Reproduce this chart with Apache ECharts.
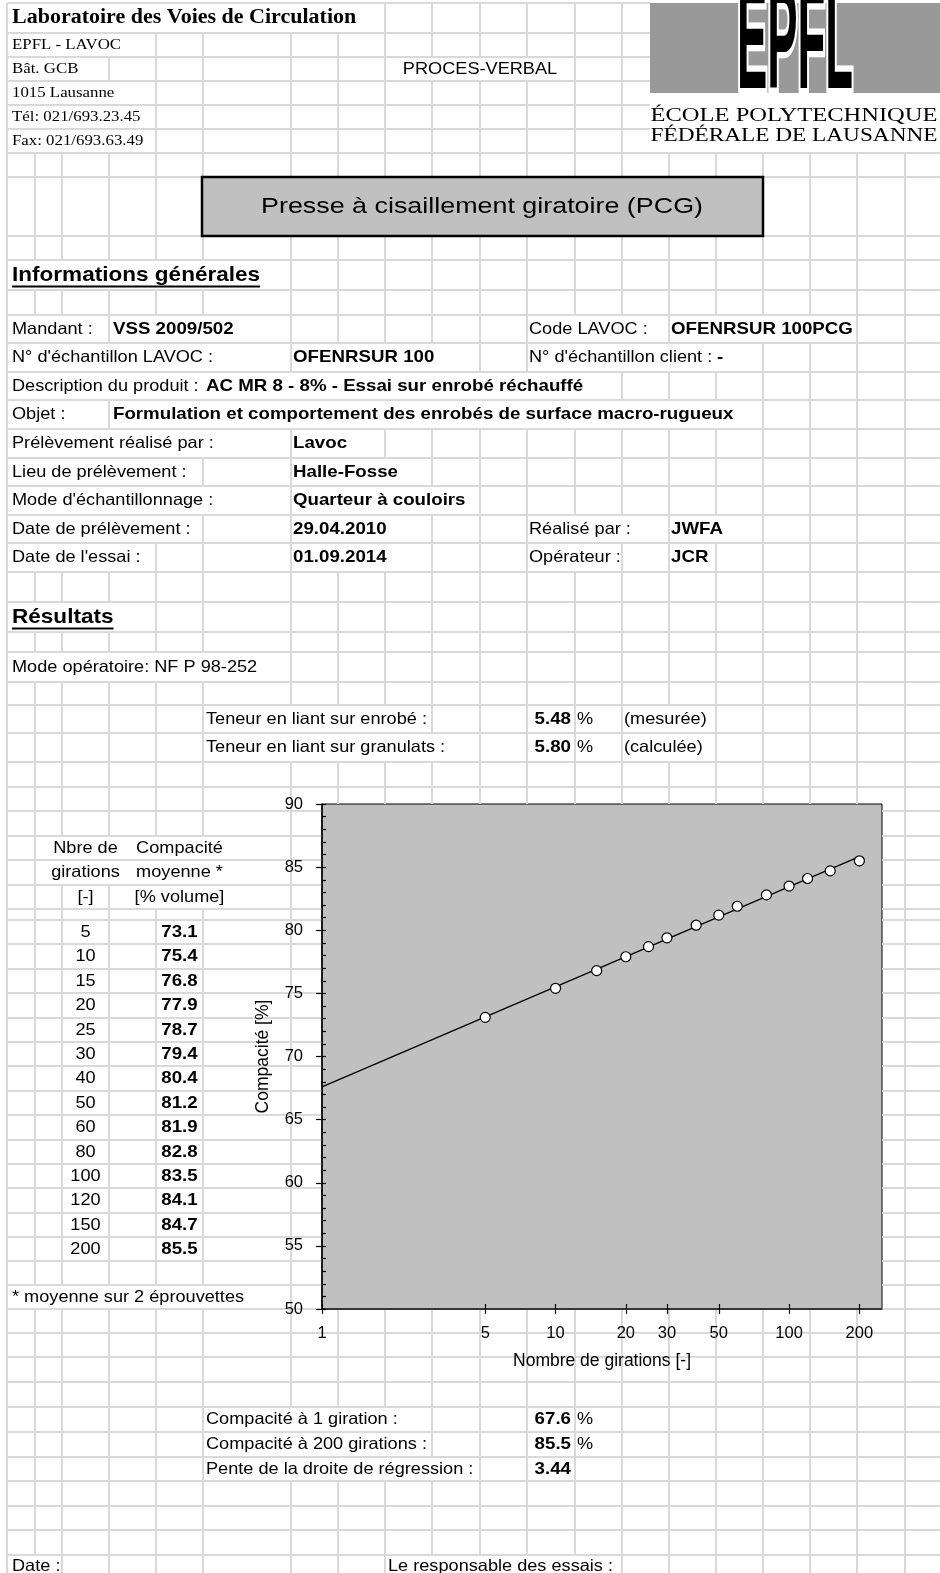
<!DOCTYPE html>
<html>
<head>
<meta charset="utf-8">
<script src="https://cdn.jsdelivr.net/npm/echarts@6/dist/echarts.min.js"></script>
<style>
  html, body { margin: 0; padding: 0; background: #fff; }
  #page { width: 940px; height: 1573px; }
</style>
</head>
<body>
<div id="page"></div>
<script>
// ---- Test data: gyratory shear press (PCG), compaction vs. number of gyrations ----
const girations = [5, 10, 15, 20, 25, 30, 40, 50, 60, 80, 100, 120, 150, 200];
const compacite = [73.1, 75.4, 76.8, 77.9, 78.7, 79.4, 80.4, 81.2, 81.9, 82.8, 83.5, 84.1, 84.7, 85.5];
const xTickValues = [1, 5, 10, 20, 30, 50, 100, 200];
const yMin = 50, yMax = 90, yStep = 5;
const xMin = 1, xMax = 250;

// Results stated in the report
const teneurEnrobe = 5.48;
const teneurGranulats = 5.80;
const compacite1 = 67.6;      // compaction at 1 gyration (regression intercept)
const compacite200 = 85.5;    // compaction at 200 gyrations
const pente = 3.44;           // slope of regression line vs ln(N)

// Regression line C(N) = C1 + pente * ln(N), drawn from N = 1 to N = 200
const regression = [[1, compacite1], [200, compacite1 + pente * Math.log(200)]];

// ---- Spreadsheet layout (column / row boundaries in px) ----
const COLS = [7, 35, 62, 109, 156, 203, 291, 338, 385, 432, 480, 527, 575, 622, 669, 716, 763, 810, 857, 905];
const ROWS = [3, 33, 57, 81, 105, 129, 153, 177, 236, 260, 290, 315, 343, 372, 400, 429, 458, 486, 515, 543,
  572, 602, 632, 652, 682, 705, 733, 762, 787, 811, 836, 860, 885, 909, 920,
  944, 969, 993, 1018, 1042, 1066, 1091, 1115, 1140, 1164, 1188, 1213, 1237,
  1261, 1285, 1309, 1333, 1357, 1382, 1407, 1432, 1457, 1481, 1506, 1530, 1555, 1578];
const PAGE_RIGHT = 940;

const PLOT = { left: 322, top: 804, right: 882, bottom: 1309 };

const SX = 1.1; // horizontal stretch of the printed type
const FONTS = {
  sans:   { family: 'Liberation Sans', size: 16.5, weight: 'normal' },
  sansB:  { family: 'Liberation Sans', size: 17, weight: 'bold' },
  serif:  { family: 'Liberation Serif', size: 15.3, weight: 'normal' },
  serifB: { family: 'Liberation Serif', size: 20, weight: 'bold' },
  head:   { family: 'Liberation Sans', size: 20.5, weight: 'bold' },
  big:    { family: 'Liberation Sans', size: 22.4, weight: 'normal', sx: 1.2 }
};

const C = COLS;
const TEXTS = [
  { r: 0, x: 12, t: 'Laboratoire des Voies de Circulation', f: 'serifB' },
  { r: 1, x: 12, t: 'EPFL - LAVOC', f: 'serif' },
  { r: 2, x: 12, t: 'Bât. GCB', f: 'serif' },
  { r: 2, x: 480, t: 'PROCES-VERBAL', a: 'center' },
  { r: 3, x: 12, t: '1015 Lausanne', f: 'serif' },
  { r: 4, x: 12, t: 'Tél: 021/693.23.45', f: 'serif' },
  { r: 5, x: 12, t: 'Fax: 021/693.63.49', f: 'serif' },
  { r: 7, x: 482, t: 'Presse à cisaillement giratoire (PCG)', f: 'big', a: 'center' },
  { r: 9, x: 12, t: 'Informations générales', f: 'head', u: true },

  { r: 11, x: 12, t: 'Mandant :' },
  { r: 11, x: C[3] + 4, t: 'VSS 2009/502', f: 'sansB' },
  { r: 11, x: C[11] + 2, t: 'Code LAVOC :' },
  { r: 11, x: C[14] + 2, t: 'OFENRSUR 100PCG', f: 'sansB' },
  { r: 12, x: 12, t: "N° d'échantillon LAVOC :" },
  { r: 12, x: C[6] + 2, t: 'OFENRSUR 100', f: 'sansB' },
  { r: 12, x: C[11] + 2, t: "N° d'échantillon client :" },
  { r: 12, x: C[15] + 1, t: '-', f: 'sansB', padL: 4 },
  { r: 13, x: 12, t: 'Description du produit :' },
  { r: 13, x: C[5] + 3, t: 'AC MR 8 - 8% - Essai sur enrobé réchauffé', f: 'sansB', padL: 6 },
  { r: 14, x: 12, t: 'Objet :' },
  { r: 14, x: C[3] + 4, t: 'Formulation et comportement des enrobés de surface macro-rugueux', f: 'sansB' },
  { r: 15, x: 12, t: 'Prélèvement réalisé par :' },
  { r: 15, x: C[6] + 2, t: 'Lavoc', f: 'sansB' },
  { r: 16, x: 12, t: 'Lieu de prélèvement :' },
  { r: 16, x: C[6] + 2, t: 'Halle-Fosse', f: 'sansB' },
  { r: 17, x: 12, t: "Mode d'échantillonnage :" },
  { r: 17, x: C[6] + 2, t: 'Quarteur à couloirs', f: 'sansB' },
  { r: 18, x: 12, t: 'Date de prélèvement :' },
  { r: 18, x: C[6] + 2, t: '29.04.2010', f: 'sansB' },
  { r: 18, x: C[11] + 2, t: 'Réalisé par :' },
  { r: 18, x: C[14] + 2, t: 'JWFA', f: 'sansB' },
  { r: 19, x: 12, t: "Date de l'essai :" },
  { r: 19, x: C[6] + 2, t: '01.09.2014', f: 'sansB' },
  { r: 19, x: C[11] + 2, t: 'Opérateur :' },
  { r: 19, x: C[14] + 2, t: 'JCR', f: 'sansB' },

  { r: 21, x: 12, t: 'Résultats', f: 'head', u: true },
  { r: 23, x: 12, t: 'Mode opératoire: NF P 98-252' },
  { r: 25, x: C[5] + 3, t: 'Teneur en liant sur enrobé :' },
  { r: 25, x: C[12] - 4, t: teneurEnrobe.toFixed(2), f: 'sansB', a: 'right' },
  { r: 25, x: C[12] + 2, t: '%' },
  { r: 25, x: C[13] + 2, t: '(mesurée)' },
  { r: 26, x: C[5] + 3, t: 'Teneur en liant sur granulats :' },
  { r: 26, x: C[12] - 4, t: teneurGranulats.toFixed(2), f: 'sansB', a: 'right' },
  { r: 26, x: C[12] + 2, t: '%' },
  { r: 26, x: C[13] + 2, t: '(calculée)' },

  { r: 30, x: 85.5, t: 'Nbre de', a: 'center' },
  { r: 30, x: 179.5, t: 'Compacité', a: 'center' },
  { r: 31, x: 85.5, t: 'girations', a: 'center' },
  { r: 31, x: 179.5, t: 'moyenne *', a: 'center' },
  { r: 32, x: 85.5, t: '[-]', a: 'center' },
  { r: 32, x: 179.5, t: '[% volume]', a: 'center' },
  { r: 49, x: 12, t: '* moyenne sur 2 éprouvettes' },

  { r: 54, x: C[5] + 3, t: 'Compacité à 1 giration :' },
  { r: 54, x: C[12] - 4, t: compacite1.toFixed(1), f: 'sansB', a: 'right' },
  { r: 54, x: C[12] + 2, t: '%' },
  { r: 55, x: C[5] + 3, t: 'Compacité à 200 girations :' },
  { r: 55, x: C[12] - 4, t: compacite200.toFixed(1), f: 'sansB', a: 'right' },
  { r: 55, x: C[12] + 2, t: '%' },
  { r: 56, x: C[5] + 3, t: 'Pente de la droite de régression :' },
  { r: 56, x: C[12] - 4, t: pente.toFixed(2), f: 'sansB', a: 'right' },
  { r: 60, x: 12, t: 'Date :' },
  { r: 60, x: C[8] + 3, t: 'Le responsable des essais :' }
];
// Data table rows, drawn from the series arrays
girations.forEach((g, i) => {
  TEXTS.push({ r: 34 + i, x: 85.5, t: String(g), a: 'center' });
  TEXTS.push({ r: 34 + i, x: 179.5, t: compacite[i].toFixed(1), f: 'sansB', a: 'center' });
});

// Areas painted over the cell grid: logo, title box, plot area
const OCCLUDERS = [
  { x1: 650, y1: 0, x2: 941, y2: 153 },
  { x1: 202, y1: 177, x2: 763, y2: 236 },
  { x1: PLOT.left, y1: PLOT.top, x2: PLOT.right, y2: PLOT.bottom }
];

// ---- Build graphic elements ----
const mctx = document.createElement('canvas').getContext('2d');
function measure(text, F) {
  mctx.font = `${F.weight} ${F.size}px "${F.family}"`;
  return mctx.measureText(text).width;
}

const elements = [];
const hidden = {};

TEXTS.forEach(it => {
  const F = FONTS[it.f || 'sans'];
  const sx = F.sx || SX;
  const w = measure(it.t, F) * sx;
  const a = it.a || 'left';
  const x1 = a === 'left' ? it.x : a === 'center' ? it.x - w / 2 : it.x - w;
  const x2 = x1 + w;
  const yc = (ROWS[it.r] + ROWS[it.r + 1]) / 2 + (it.dy || 0);
  COLS.forEach((cx, ci) => {
    if (cx > x1 - (it.padL || 0) + 1 && cx < x2 - 1) hidden[it.r + ':' + ci] = true;
  });
  elements.push({
    type: 'text', x: it.x, y: yc, scaleX: sx, z: 20, silent: true,
    style: {
      text: it.t, fill: '#000', fontSize: F.size, fontFamily: F.family, fontWeight: F.weight,
      textAlign: a, align: a, textVerticalAlign: 'middle', verticalAlign: 'middle'
    }
  });
  if (it.u) {
    elements.push({
      type: 'line', z: 20, silent: true,
      shape: { x1: x1, y1: yc + 11.5, x2: x2, y2: yc + 11.5 },
      style: { stroke: '#000', lineWidth: 2 }
    });
  }
});

function subtract(pieces, a, b) {
  const out = [];
  pieces.forEach(([p, q]) => {
    if (b <= p || a >= q) out.push([p, q]);
    else {
      if (a > p) out.push([p, a]);
      if (b < q) out.push([b, q]);
    }
  });
  return out;
}
function gridLine(x1, y1, x2, y2) {
  return { type: 'line', z: 0, silent: true, shape: { x1, y1, x2, y2 },
    style: { stroke: '#d9d9d9', lineWidth: 2 } };
}

// vertical cell borders
COLS.forEach((cx, ci) => {
  let pieces = [];
  for (let r = 0; r < ROWS.length - 1; r++) {
    if (!hidden[r + ':' + ci]) pieces.push([ROWS[r], ROWS[r + 1]]);
  }
  OCCLUDERS.forEach(o => { if (cx > o.x1 && cx < o.x2) pieces = subtract(pieces, o.y1, o.y2); });
  const merged = [];
  pieces.forEach(p => {
    const last = merged[merged.length - 1];
    if (last && Math.abs(last[1] - p[0]) < 0.01) last[1] = p[1];
    else merged.push([p[0], p[1]]);
  });
  merged.forEach(([a, b]) => elements.push(gridLine(cx, a, cx, b)));
});
// horizontal cell borders
ROWS.forEach(y => {
  let pieces = [[COLS[0], PAGE_RIGHT]];
  OCCLUDERS.forEach(o => { if (y > o.y1 && y < o.y2) pieces = subtract(pieces, o.x1, o.x2); });
  pieces.forEach(([a, b]) => elements.push(gridLine(a, y, b, y)));
});

// Title box
elements.push({
  type: 'rect', z: 10, silent: true,
  shape: { x: 202, y: 177, width: 561, height: 59 },
  style: { fill: '#c0c0c0', stroke: '#000', lineWidth: 2.5 }
});

// EPFL logo block
elements.push({
  type: 'rect', z: 10, silent: true,
  shape: { x: 650, y: 3, width: 290, height: 90 },
  style: { fill: '#999999' }
});
const logoFont = { family: 'Liberation Sans', size: 60, weight: 'bold' };
const logoSX = 116 / measure('EPFL', logoFont);
[{ fill: '#fff', stroke: '#fff', lw: 5 }, { fill: '#000', stroke: null, lw: 0 }].forEach((s, k) => {
  elements.push({
    type: 'text', x: 795, y: 47, scaleX: logoSX, scaleY: 2.45, z: 11 + k, silent: true,
    style: {
      text: 'EPFL', fill: s.fill, stroke: s.stroke, lineWidth: s.lw,
      fontSize: logoFont.size, fontFamily: logoFont.family, fontWeight: 'bold',
      textAlign: 'center', align: 'center', textVerticalAlign: 'middle', verticalAlign: 'middle'
    }
  });
});
const logoTextFont = { family: 'Liberation Serif', size: 19, weight: 'normal' };
[['ÉCOLE POLYTECHNIQUE', 116], ['FÉDÉRALE DE LAUSANNE', 136]].forEach(([t, y]) => {
  const sx = 287 / measure(t, logoTextFont);
  elements.push({
    type: 'text', x: 794, y: y, scaleX: sx, z: 12, silent: true,
    style: {
      text: t, fill: '#000', fontSize: logoTextFont.size, fontFamily: logoTextFont.family,
      textAlign: 'center', align: 'center', textVerticalAlign: 'middle', verticalAlign: 'middle'
    }
  });
});

// ---- Chart ----
const axisFont = { color: '#000', fontSize: 16.5, fontFamily: 'Liberation Sans' };
const tickStyle = { color: '#000', width: 1.2 };

const chart = echarts.init(document.getElementById('page'), null, { renderer: 'canvas' });
chart.setOption({
  animation: false,
  backgroundColor: 'transparent',
  graphic: { elements: elements },
  grid: {
    left: PLOT.left, top: PLOT.top,
    width: PLOT.right - PLOT.left, height: PLOT.bottom - PLOT.top,
    show: true, backgroundColor: '#c0c0c0', borderColor: '#000', borderWidth: 1,
    containLabel: false
  },
  xAxis: [
    {
      type: 'log', logBase: 10, min: xMin, max: xMax, position: 'bottom', z: 5,
      axisLine: { show: true, lineStyle: { color: '#000', width: 1.5 } },
      axisTick: { show: true, length: 5, lineStyle: tickStyle, customValues: xTickValues },
      axisLabel: { show: true, customValues: xTickValues, margin: 16, formatter: v => String(Math.round(v)), ...axisFont },
      splitLine: { show: false },
      minorTick: { show: false }, minorSplitLine: { show: false },
      name: 'Nombre de girations [-]', nameLocation: 'middle', nameGap: 43,
      nameTextStyle: { color: '#000', fontSize: 17.5, fontFamily: 'Liberation Sans' }
    },
    {
      type: 'log', logBase: 10, min: xMin, max: xMax, position: 'bottom', z: 5,
      axisLine: { show: false },
      axisTick: { show: true, inside: true, length: 5, lineStyle: tickStyle, customValues: xTickValues },
      axisLabel: { show: false },
      splitLine: { show: false }
    }
  ],
  yAxis: [
    {
      type: 'value', min: yMin, max: yMax, interval: yStep, position: 'left', z: 5,
      axisLine: { show: true, lineStyle: { color: '#000', width: 1.5 } },
      axisTick: { show: true, length: 6, lineStyle: tickStyle },
      axisLabel: { margin: 19, ...axisFont },
      splitLine: { show: false },
      name: 'Compacité [%]', nameLocation: 'middle', nameGap: 50, nameRotate: 90,
      nameTextStyle: { color: '#000', fontSize: 17.5, fontFamily: 'Liberation Sans' }
    },
    {
      type: 'value', min: yMin, max: yMax, interval: yStep, position: 'left', z: 5,
      axisLine: { show: false },
      axisTick: { show: true, inside: true, length: 4, lineStyle: tickStyle },
      minorTick: { show: true, splitNumber: 5, length: 4, lineStyle: tickStyle },
      axisLabel: { show: false },
      splitLine: { show: false }
    }
  ],
  series: [
    {
      name: 'Régression', type: 'line', xAxisIndex: 0, yAxisIndex: 0,
      data: regression, symbol: 'none', silent: true, z: 3,
      lineStyle: { color: '#000', width: 1.3 }
    },
    {
      name: 'Compacité moyenne', type: 'scatter', xAxisIndex: 0, yAxisIndex: 0,
      data: girations.map((g, i) => [g, compacite[i]]),
      symbol: 'circle', symbolSize: 10, z: 4,
      itemStyle: { color: '#fff', borderColor: '#000', borderWidth: 1.2, opacity: 1 }
    }
  ]
});
</script>
</body>
</html>
